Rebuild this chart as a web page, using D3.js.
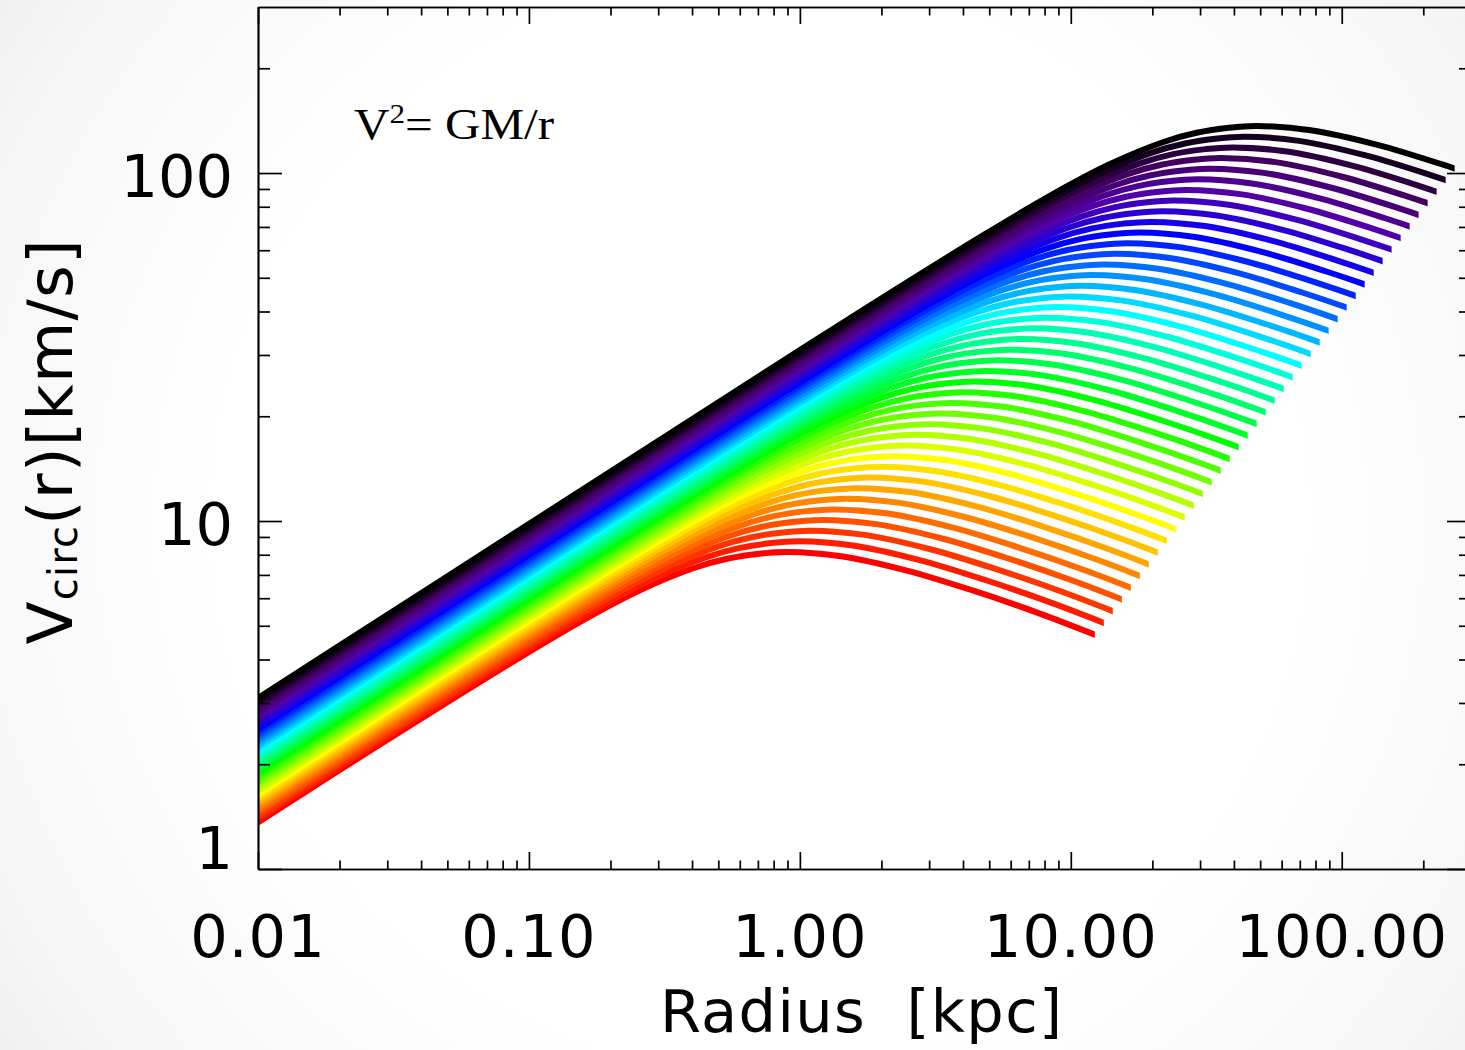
<!DOCTYPE html>
<html>
<head>
<meta charset="utf-8">
<script src="https://cdn.jsdelivr.net/npm/d3@7"></script>
<style>
  html, body { margin: 0; padding: 0; background: #fff; }
  svg { display: block; }
</style>
</head>
<body>
<svg id="chart" width="1465" height="1050"></svg>
<script>
// Circular-velocity curves V_circ(r) for a sequence of haloes,
// lowest mass first (red) up to the most massive one (black).

// Radius of the velocity maximum of each halo [kpc]
const haloPeakRadius = [
  0.895, 0.989, 1.093, 1.208, 1.335, 1.475, 1.629, 1.800, 1.989, 2.198,
  2.428, 2.683, 2.965, 3.276, 3.619, 3.999, 4.419, 4.883, 5.395, 5.961,
  6.587, 7.278, 8.041, 8.885, 9.817, 10.85, 11.98, 13.24, 14.63, 16.17,
  17.86, 19.74, 21.81, 24.10, 26.63, 29.42, 32.51, 35.92, 39.68, 43.85,
  48.45
];
// Maximum circular velocity of each halo [km/s]
const haloPeakVelocity = [
  8.147, 8.744, 9.380, 10.07, 10.80, 11.59, 12.43, 13.34, 14.32, 15.36,
  16.48, 17.69, 18.98, 20.37, 21.85, 23.44, 25.16, 26.99, 28.96, 31.08,
  33.34, 35.78, 38.39, 41.20, 44.20, 47.42, 50.89, 54.60, 58.59, 62.86,
  67.45, 72.38, 77.66, 83.33, 89.41, 95.94, 102.9, 110.5, 118.5, 127.2,
  136.5
];
// Outer radius where each curve stops [kpc]
const haloOuterRadius = [
  12.27, 13.24, 14.29, 15.43, 16.65, 17.97, 19.40, 20.94, 22.61, 24.40,
  26.34, 28.43, 30.69, 33.13, 35.76, 38.60, 41.67, 44.98, 48.55, 52.41,
  56.57, 61.07, 65.92, 71.15, 76.81, 82.91, 89.49, 96.61, 104.3, 112.6,
  121.5, 131.2, 141.6, 152.8, 165.0, 178.1, 192.2, 207.5, 224.0, 241.8,
  261.0
];

// Shared rotation-curve shape: radius and velocity in units of the peak values
const shapeRadius = [
  0.0001, 0.001, 0.01, 0.0316, 0.1, 0.178, 0.287, 0.454, 0.601, 0.794,
  1.0, 1.585, 2.773, 4.853, 8.59, 15.85
];
const shapeVelocity = [
  0.01581, 0.0500, 0.1581, 0.2803, 0.4898, 0.6383, 0.7762, 0.8995, 0.9561, 0.9886,
  1.0, 0.9727, 0.8845, 0.7754, 0.6653, 0.5534
];

// Colour ramp along the halo sequence (index 0 = red ... index 40 = black)
const colorIndex = [0, 4.5, 9, 16, 23, 30, 34, 37, 40];
const colorValue = ["#ff0000", "#ff7800", "#ffff00", "#00ff00", "#00ffff",
                    "#0000ff", "#5200a8", "#420060", "#000000"];

// Axis ticks and labels
const xTickValues = [0.01, 0.1, 1, 10, 100];
const xTickLabels = ["0.01", "0.10", "1.00", "10.00", "100.00"];
const yTickValues = [1, 10, 100];
const yTickLabels = ["1", "10", "100"];
const decades = [0.01, 0.1, 1, 10, 100];
const minorSteps = [2, 3, 4, 5, 6, 7, 8, 9];

const W = 1465, H = 1050;
const plot = { left: 258, right: 1471, top: 7, bottom: 869 };

const svg = d3.select("#chart");
const defs = svg.append("defs");

// soft grey vignette behind everything
const grad = defs.append("radialGradient")
  .attr("id", "bg")
  .attr("gradientUnits", "userSpaceOnUse")
  .attr("cx", 760).attr("cy", 520).attr("r", 980);
grad.append("stop").attr("offset", "0.55").attr("stop-color", "#ffffff");
grad.append("stop").attr("offset", "0.85").attr("stop-color", "#f6f6f6");
grad.append("stop").attr("offset", "1").attr("stop-color", "#ececec");
svg.append("rect").attr("width", W).attr("height", H).attr("fill", "url(#bg)");

const x = d3.scaleLog().domain([0.01, 300]).range([plot.left, plot.right]);
const y = d3.scaleLog().domain([1, 300]).range([plot.bottom, plot.top]);
const color = d3.scaleLinear().domain(colorIndex).range(colorValue)
  .interpolate(d3.interpolateRgb);

const line = d3.line().curve(d3.curveCatmullRom.alpha(0.5));

// ---- curves ----
const curves = svg.append("g").attr("class", "curves");
haloPeakRadius.forEach((rp, i) => {
  const vp = haloPeakVelocity[i];
  const pts = shapeRadius.map((s, k) => [x(rp * s), y(vp * shapeVelocity[k])]);
  const cid = "clip" + i;
  defs.append("clipPath").attr("id", cid)
    .append("rect")
    .attr("x", x(0.01))
    .attr("y", 0)
    .attr("width", x(haloOuterRadius[i]) - x(0.01))
    .attr("height", plot.bottom);
  curves.append("path")
    .attr("d", line(pts))
    .attr("fill", "none")
    .attr("stroke", color(i))
    .attr("stroke-width", 6)
    .attr("clip-path", `url(#${cid})`);
});

// ---- axes (ticks point inwards on all four sides) ----
const minorX = decades.flatMap(d => minorSteps.map(k => d * k)).filter(v => v < 300);
const minorY = [1, 10, 100].flatMap(d => minorSteps.map(k => d * k)).filter(v => v < 300);
const axisStyle = g => {
  g.selectAll("path, line").attr("stroke", "#000").attr("stroke-width", 1.7);
  g.selectAll("text").remove();
};
const majX = 17, minX = 8.5, majY = 24, minY = 12;

svg.append("g").attr("transform", `translate(0,${plot.bottom})`)
  .call(d3.axisBottom(x).tickValues(xTickValues).tickSize(-majX).tickSizeOuter(0)).call(axisStyle);
svg.append("g").attr("transform", `translate(0,${plot.bottom})`)
  .call(d3.axisBottom(x).tickValues(minorX).tickSize(-minX).tickSizeOuter(0)).call(axisStyle);
svg.append("g").attr("transform", `translate(0,${plot.top})`)
  .call(d3.axisTop(x).tickValues(xTickValues).tickSize(-majX).tickSizeOuter(0)).call(axisStyle);
svg.append("g").attr("transform", `translate(0,${plot.top})`)
  .call(d3.axisTop(x).tickValues(minorX).tickSize(-minX).tickSizeOuter(0)).call(axisStyle);

svg.append("g").attr("transform", `translate(${plot.left},0)`)
  .call(d3.axisLeft(y).tickValues(yTickValues).tickSize(-majY).tickSizeOuter(0)).call(axisStyle);
svg.append("g").attr("transform", `translate(${plot.left},0)`)
  .call(d3.axisLeft(y).tickValues(minorY).tickSize(-minY).tickSizeOuter(0)).call(axisStyle);
svg.append("g").attr("transform", `translate(${plot.right},0)`)
  .call(d3.axisRight(y).tickValues(yTickValues).tickSize(-majY).tickSizeOuter(0)).call(axisStyle);
svg.append("g").attr("transform", `translate(${plot.right},0)`)
  .call(d3.axisRight(y).tickValues(minorY).tickSize(-minY).tickSizeOuter(0)).call(axisStyle);

// ---- tick labels ----
const labelFont = "'DejaVu Sans', sans-serif";
svg.append("g").selectAll("text")
  .data(xTickValues)
  .join("text")
  .attr("x", d => x(d))
  .attr("y", 957)
  .attr("text-anchor", "middle")
  .attr("font-family", labelFont)
  .attr("font-size", 59)
  .attr("letter-spacing", 1)
  .attr("fill", "#000")
  .text((d, i) => xTickLabels[i]);

svg.append("g").selectAll("text")
  .data(yTickValues)
  .join("text")
  .attr("x", 233)
  .attr("y", d => Math.min(y(d) + 24, plot.bottom))
  .attr("text-anchor", "end")
  .attr("font-family", labelFont)
  .attr("font-size", 59)
  .attr("fill", "#000")
  .text((d, i) => yTickLabels[i]);

// ---- axis titles ----
svg.append("text")
  .attr("x", 861)
  .attr("y", 1032)
  .attr("text-anchor", "middle")
  .attr("font-family", labelFont)
  .attr("font-size", 59)
  .attr("fill", "#000")
  .attr("textLength", 402)
  .attr("lengthAdjust", "spacing")
  .text("Radius\u00a0\u00a0[kpc]");

const yt = svg.append("text")
  .attr("transform", "translate(72,442) rotate(-90)")
  .attr("text-anchor", "middle")
  .attr("font-family", labelFont)
  .attr("font-size", 63)
  .attr("fill", "#000")
  .attr("textLength", 405)
  .attr("lengthAdjust", "spacing");
yt.append("tspan").text("V");
yt.append("tspan").attr("font-size", 40).attr("dy", 5).text("circ");
yt.append("tspan").attr("dy", -5).text("(r)[km/s]");

// ---- annotation ----
const ann = svg.append("text")
  .attr("x", 354)
  .attr("y", 139)
  .attr("font-family", "'Liberation Serif', 'Times New Roman', serif")
  .attr("font-size", 44)
  .attr("fill", "#000")
  .attr("textLength", 200)
  .attr("lengthAdjust", "spacingAndGlyphs");
ann.append("tspan").text("V");
ann.append("tspan").attr("font-size", 28).attr("dy", -16).text("2");
ann.append("tspan").attr("dy", 16).text("= GM/r");
</script>
</body>
</html>
